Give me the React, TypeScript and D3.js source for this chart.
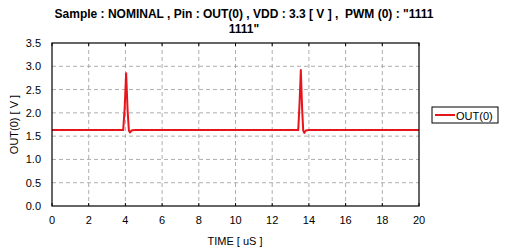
import React from "react";
import * as d3 from "d3";

const timeUs = [0, 3.88, 3.96, 4.04, 4.12, 4.19, 4.25, 4.33, 4.5, 13.42, 13.49, 13.56, 13.63, 13.69, 13.75, 13.83, 14.0, 20];
const outV = [1.63, 1.63, 2.1, 2.85, 2.05, 1.62, 1.58, 1.62, 1.63, 1.63, 2.2, 2.92, 2.1, 1.62, 1.57, 1.62, 1.63, 1.63];
const xTicks = [0, 2, 4, 6, 8, 10, 12, 14, 16, 18, 20];
const yTicks = [0, 0.5, 1.0, 1.5, 2.0, 2.5, 3.0, 3.5];
const titleLines = ['Sample : NOMINAL , Pin : OUT(0) , VDD : 3.3 [ V ] ,  PWM (0) : "1111', '1111"'];
const seriesName = "OUT(0)";

export default function App() {
  const W = 509, H = 252;
  const L = 52, R = 419, T = 43, B = 206;
  const x = d3.scaleLinear().domain([0, 20]).range([L, R]);
  const y = d3.scaleLinear().domain([0, 3.5]).range([B, T]);
  const pts = timeUs.map((t, i) => [t, outV[i]] as [number, number]);
  const line = d3.line<[number, number]>().x(d => x(d[0])).y(d => y(d[1]));
  const font = "'Liberation Sans', Arial, sans-serif";
  return (
    <svg width={W} height={H} style={{ position: "absolute", left: 0, top: 0, background: "#fff" }} fontFamily={font}>
      {titleLines.map((s, i) => (
        <text key={i} x={244} y={18 + i * 15} textAnchor="middle" fontSize={12} fontWeight="bold" fill="#000" style={{ whiteSpace: "pre" }}>{s}</text>
      ))}
      {xTicks.slice(1, -1).map(t => (
        <line key={"gx" + t} x1={x(t)} x2={x(t)} y1={T} y2={B} stroke="#999" strokeDasharray="4,3" strokeWidth={0.8} />
      ))}
      {yTicks.slice(1, -1).map(t => (
        <line key={"gy" + t} x1={L} x2={R} y1={y(t)} y2={y(t)} stroke="#999" strokeDasharray="4,3" strokeWidth={0.8} />
      ))}
      {xTicks.map(t => (
        <g key={"tx" + t}>
          <line x1={x(t)} x2={x(t)} y1={T} y2={T + 3} stroke="#000" />
          <line x1={x(t)} x2={x(t)} y1={B} y2={B - 3} stroke="#000" />
          <text x={x(t)} y={B + 18} textAnchor="middle" fontSize={11} fill="#000">{t}</text>
        </g>
      ))}
      {yTicks.map(t => (
        <text key={"ty" + t} x={L - 11} y={y(t) + 4} textAnchor="end" fontSize={11} fill="#000">{t.toFixed(1)}</text>
      ))}
      <path d={line(pts) || ""} fill="none" stroke="#e8141c" strokeWidth={2} strokeLinejoin="round" />
      <rect x={L} y={T} width={R - L} height={B - T} fill="none" stroke="#000" strokeWidth={1.2} />
      <text x={235} y={245} textAnchor="middle" fontSize={11} fill="#000">TIME [ uS ]</text>
      <text transform={`translate(18,${(T + B) / 2}) rotate(-90)`} textAnchor="middle" fontSize={11} fill="#000">OUT(0) [ V ]</text>
      <rect x={432} y={107} width={66} height={16} fill="#fff" stroke="#000" strokeWidth={1} />
      <line x1={435} x2={455} y1={115} y2={115} stroke="#e8141c" strokeWidth={2} />
      <text x={456} y={119.5} fontSize={11} fill="#000">{seriesName}</text>
    </svg>
  );
}
